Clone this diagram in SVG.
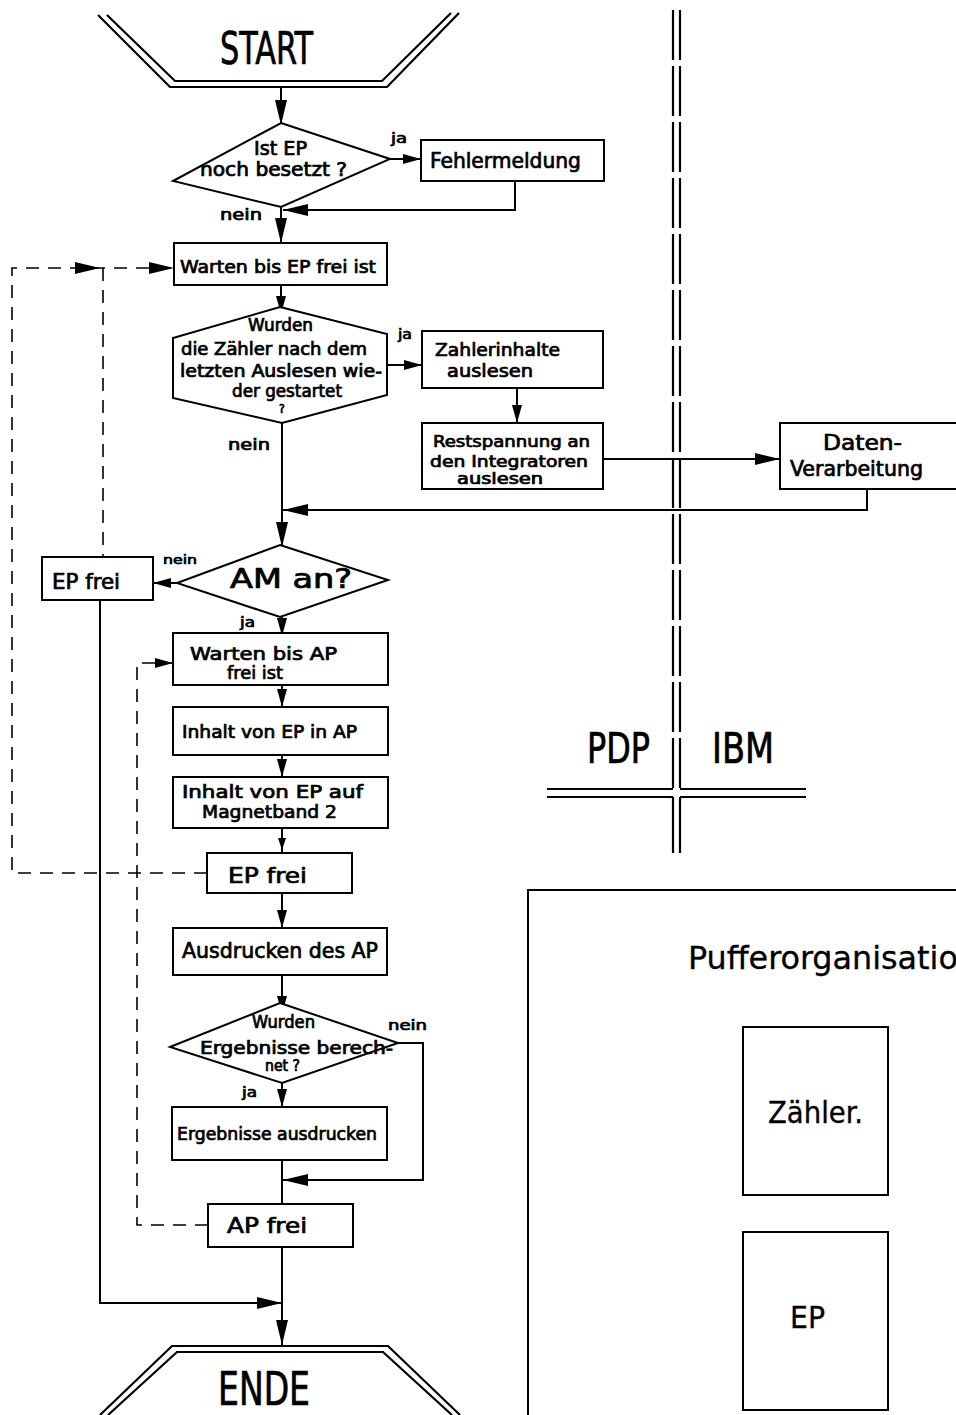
<svg xmlns="http://www.w3.org/2000/svg" xmlns:xlink="http://www.w3.org/1999/xlink" width="956" height="1415" viewBox="0 0 956 1415">
  <style>
    .ln { fill: none; stroke: #000; stroke-width: 2; }
    .bx { fill: #fff; stroke: #000; stroke-width: 2; }
    .dash { fill: none; stroke: #000; stroke-width: 1.6; stroke-dasharray: 13 9; }
    .dbl { fill: none; stroke: #000; stroke-width: 2.2; }
    .t { font-family: "Liberation Sans Narrow", "DejaVu Sans Condensed", "Liberation Sans", sans-serif; font-weight: normal; fill: #000; stroke: #000; stroke-width: 0.7; }
    .tn { font-family: "Liberation Sans Narrow", "DejaVu Sans Condensed", "Liberation Sans", sans-serif; font-weight: normal; fill: #000; stroke: #000; stroke-width: 0.3; }
    .ah { fill: #000; }
  </style>
  <defs>
    <path id="ah" d="M0,0 L-25,-6 L-25,6 Z"/>
    <path id="ahs" d="M0,0 L-18,-5 L-18,5 Z"/>
    <path id="aht" d="M0,0 L-12,-4 L-12,4 Z"/>
  </defs>
  <rect width="956" height="1415" fill="#fff"/>

  <!-- PDP / IBM separation -->
  <g id="trennlinie">
    <path class="dbl" d="M673,10 V789 M680,10 V789" stroke-dasharray="50 6"/>
    <path class="dbl" d="M673,797 V853 M680,797 V853"/>
    <path class="dbl" d="M547,789 H673 M680,789 H806 M547,797 H673 M680,797 H806"/>
    <text class="t" x="587" y="763" font-size="42" textLength="63" lengthAdjust="spacingAndGlyphs">PDP</text>
    <text class="t" x="712" y="763" font-size="42" textLength="62" lengthAdjust="spacingAndGlyphs">IBM</text>
  </g>

  <!-- Connectors -->
  <g id="connectors">
    <path class="ln" d="M281,87 V125"/>
    <use class="ah" href="#ah" transform="translate(281,125) rotate(90)"/>
    <path class="ln" d="M390,159 H421"/>
    <use class="ah" href="#ahs" transform="translate(421,159)"/>
    <path class="ln" d="M515,181 V210 H283"/>
    <use class="ah" href="#ah" transform="translate(283,210) rotate(180)"/>
    <path class="ln" d="M281,207 V243"/>
    <use class="ah" href="#ah" transform="translate(281,243) rotate(90)"/>
    <path class="ln" d="M281,285 V312"/>
    <use class="ah" href="#ahs" transform="translate(281,314) rotate(90)"/>
    <path class="ln" d="M387,365 H422"/>
    <use class="ah" href="#ahs" transform="translate(422,365)"/>
    <path class="ln" d="M517,388 V423"/>
    <use class="ah" href="#ahs" transform="translate(517,423) rotate(90)"/>
    <path class="ln" d="M603,459 H780"/>
    <use class="ah" href="#ah" transform="translate(780,459)"/>
    <path class="ln" d="M867,489 V510 H283"/>
    <use class="ah" href="#ah" transform="translate(283,510) rotate(180)"/>
    <path class="ln" d="M282,423 V547"/>
    <use class="ah" href="#ah" transform="translate(282,547) rotate(90)"/>
    <path class="ln" d="M177,583 H153"/>
    <use class="ah" href="#ahs" transform="translate(153,583) rotate(180)"/>
    <path class="ln" d="M282,617 V634"/>
    <use class="ah" href="#ahs" transform="translate(282,636) rotate(90)"/>
    <path class="ln" d="M282,685 V707"/>
    <use class="ah" href="#ahs" transform="translate(282,707) rotate(90)"/>
    <path class="ln" d="M282,755 V777"/>
    <use class="ah" href="#ahs" transform="translate(282,777) rotate(90)"/>
    <path class="ln" d="M282,828 V853"/>
    <use class="ah" href="#aht" transform="translate(282,850) rotate(90)"/>
    <path class="ln" d="M282,893 V928"/>
    <use class="ah" href="#ahs" transform="translate(282,928) rotate(90)"/>
    <path class="ln" d="M282,975 V1012"/>
    <use class="ah" href="#ahs" transform="translate(282,1014) rotate(90)"/>
    <path class="ln" d="M282,1083 V1107"/>
    <use class="ah" href="#ahs" transform="translate(282,1107) rotate(90)"/>
    <path class="ln" d="M398,1043 H423 V1180 H283"/>
    <use class="ah" href="#ah" transform="translate(283,1180) rotate(180)"/>
    <path class="ln" d="M282,1160 V1204"/>
    <path class="ln" d="M282,1247 V1346"/>
    <use class="ah" href="#ah" transform="translate(282,1345) rotate(90)"/>
    <path class="ln" d="M100,600 V1303 H282"/>
    <use class="ah" href="#ah" transform="translate(282,1303)"/>
    <!-- dashed release paths -->
    <path class="dash" d="M207,873 H12 V268 H174"/>
    <use class="ah" href="#ah" transform="translate(100,268)"/>
    <use class="ah" href="#ah" transform="translate(174,268)"/>
    <path class="dash" d="M103,268 V557"/>
    <path class="dash" d="M208,1225 H137 V663 H173"/>
    <use class="ah" href="#ahs" transform="translate(173,663)"/>
    <!-- buffer organisation -->
    <path class="ln" d="M815,1195 V1232"/>
    <use class="ah" href="#ahs" transform="translate(815,1232) rotate(90)"/>
    <path class="ln" d="M956,1320 H888"/>
    <use class="ah" href="#ah" transform="translate(888,1320) rotate(180)"/>
  </g>

  <g id="start">
    <polyline class="dbl" points="98,15 170,87 387,87 459,13"/>
    <polyline class="dbl" points="107,15 175,81 382,81 451,13"/>
    <text class="t" x="220" y="64" font-size="44" textLength="93" lengthAdjust="spacingAndGlyphs">START</text>
  </g>

  <g id="frage-ep-besetzt">
    <polygon class="bx" points="281,123 390,159 281,207 173,181"/>
    <text class="t" x="254" y="155" font-size="19" textLength="53" lengthAdjust="spacingAndGlyphs">Ist EP</text>
    <text class="t" x="200" y="176" font-size="19" textLength="147" lengthAdjust="spacingAndGlyphs">noch besetzt ?</text>
    <text class="t" x="391" y="143" font-size="14" textLength="16" lengthAdjust="spacingAndGlyphs">ja</text>
    <text class="t" x="220" y="220" font-size="15" textLength="42" lengthAdjust="spacingAndGlyphs">nein</text>
  </g>

  <g id="fehlermeldung">
    <rect class="bx" x="421" y="140" width="183" height="41"/>
    <text class="t" x="430" y="168" font-size="22" textLength="151" lengthAdjust="spacingAndGlyphs">Fehlermeldung</text>
  </g>

  <g id="warten-ep">
    <rect class="bx" x="174" y="243" width="213" height="42"/>
    <text class="t" x="180" y="273" font-size="18" textLength="196" lengthAdjust="spacingAndGlyphs">Warten bis EP frei ist</text>
  </g>

  <g id="frage-zaehler">
    <polygon class="bx" points="280,307 387,334 387,395 282,423 173,398 173,338"/>
    <text class="t" x="248" y="331" font-size="17" textLength="65" lengthAdjust="spacingAndGlyphs">Wurden</text>
    <text class="t" x="181" y="355" font-size="17" textLength="186" lengthAdjust="spacingAndGlyphs">die Zähler nach dem</text>
    <text class="t" x="180" y="377" font-size="17" textLength="202" lengthAdjust="spacingAndGlyphs">letzten Auslesen wie-</text>
    <text class="t" x="232" y="397" font-size="17" textLength="110" lengthAdjust="spacingAndGlyphs">der gestartet</text>
    <text class="t" x="279" y="413" font-size="12">?</text>
    <text class="t" x="398" y="339" font-size="14" textLength="14" lengthAdjust="spacingAndGlyphs">ja</text>
    <text class="t" x="228" y="450" font-size="15" textLength="42" lengthAdjust="spacingAndGlyphs">nein</text>
  </g>

  <g id="zaehlerinhalte">
    <rect class="bx" x="422" y="331" width="181" height="57"/>
    <text class="t" x="435" y="356" font-size="18" textLength="125" lengthAdjust="spacingAndGlyphs">Zahlerinhalte</text>
    <text class="t" x="447" y="377" font-size="18" textLength="86" lengthAdjust="spacingAndGlyphs">auslesen</text>
  </g>

  <g id="restspannung">
    <rect class="bx" x="422" y="423" width="181" height="66"/>
    <text class="t" x="433" y="447" font-size="16" textLength="157" lengthAdjust="spacingAndGlyphs">Restspannung an</text>
    <text class="t" x="430" y="467" font-size="16" textLength="158" lengthAdjust="spacingAndGlyphs">den Integratoren</text>
    <text class="t" x="457" y="484" font-size="15" textLength="86" lengthAdjust="spacingAndGlyphs">auslesen</text>
  </g>

  <g id="datenverarbeitung">
    <rect class="bx" x="780" y="423" width="200" height="66"/>
    <text class="t" x="823" y="450" font-size="22" textLength="79" lengthAdjust="spacingAndGlyphs">Daten-</text>
    <text class="t" x="790" y="476" font-size="22" textLength="133" lengthAdjust="spacingAndGlyphs">Verarbeitung</text>
  </g>

  <g id="frage-am">
    <polygon class="bx" points="280,545 388,580 280,617 177,583"/>
    <text class="t" x="230" y="588" font-size="26" textLength="122" lengthAdjust="spacingAndGlyphs">AM  an?</text>
    <text class="t" x="163" y="564" font-size="13" textLength="34" lengthAdjust="spacingAndGlyphs">nein</text>
    <text class="t" x="240" y="627" font-size="14" textLength="15" lengthAdjust="spacingAndGlyphs">ja</text>
  </g>

  <g id="ep-frei-links">
    <rect class="bx" x="42" y="557" width="111" height="43"/>
    <text class="t" x="52" y="589" font-size="22" textLength="68" lengthAdjust="spacingAndGlyphs">EP frei</text>
  </g>

  <g id="warten-ap">
    <rect class="bx" x="173" y="633" width="215" height="52"/>
    <text class="t" x="190" y="660" font-size="18" textLength="147" lengthAdjust="spacingAndGlyphs">Warten bis  AP</text>
    <text class="t" x="227" y="679" font-size="18" textLength="56" lengthAdjust="spacingAndGlyphs">frei ist</text>
  </g>

  <g id="inhalt-ep-ap">
    <rect class="bx" x="173" y="707" width="215" height="48"/>
    <text class="t" x="182" y="738" font-size="18" textLength="175" lengthAdjust="spacingAndGlyphs">Inhalt von EP in AP</text>
  </g>

  <g id="inhalt-ep-band">
    <rect class="bx" x="173" y="777" width="215" height="51"/>
    <text class="t" x="182" y="798" font-size="18" textLength="181" lengthAdjust="spacingAndGlyphs">Inhalt von EP auf</text>
    <text class="t" x="202" y="818" font-size="18" textLength="135" lengthAdjust="spacingAndGlyphs">Magnetband 2</text>
  </g>

  <g id="ep-frei-mitte">
    <rect class="bx" x="207" y="853" width="145" height="40"/>
    <text class="t" x="228" y="883" font-size="22" textLength="79" lengthAdjust="spacingAndGlyphs">EP  frei</text>
  </g>

  <g id="ausdrucken-ap">
    <rect class="bx" x="173" y="928" width="214" height="47"/>
    <text class="t" x="182" y="958" font-size="22" textLength="196" lengthAdjust="spacingAndGlyphs">Ausdrucken des AP</text>
  </g>

  <g id="frage-ergebnisse">
    <polygon class="bx" points="280,1003 398,1043 282,1083 170,1047"/>
    <text class="t" x="252" y="1028" font-size="17" textLength="63" lengthAdjust="spacingAndGlyphs">Wurden</text>
    <text class="t" x="200" y="1054" font-size="17" textLength="193" lengthAdjust="spacingAndGlyphs">Ergebnisse berech-</text>
    <text class="t" x="265" y="1071" font-size="15" textLength="35" lengthAdjust="spacingAndGlyphs">net ?</text>
    <text class="t" x="388" y="1030" font-size="14" textLength="39" lengthAdjust="spacingAndGlyphs">nein</text>
    <text class="t" x="242" y="1097" font-size="14" textLength="15" lengthAdjust="spacingAndGlyphs">ja</text>
  </g>

  <g id="ergebnisse-ausdrucken">
    <rect class="bx" x="172" y="1107" width="215" height="53"/>
    <text class="t" x="177" y="1140" font-size="18" textLength="200" lengthAdjust="spacingAndGlyphs">Ergebnisse ausdrucken</text>
  </g>

  <g id="ap-frei">
    <rect class="bx" x="208" y="1204" width="145" height="43"/>
    <text class="t" x="227" y="1233" font-size="22" textLength="80" lengthAdjust="spacingAndGlyphs">AP  frei</text>
  </g>

  <g id="ende">
    <polyline class="dbl" points="100,1415 172,1346 388,1346 460,1415"/>
    <polyline class="dbl" points="108,1415 177,1352 383,1352 452,1415"/>
    <text class="t" x="218" y="1405" font-size="46" textLength="92" lengthAdjust="spacingAndGlyphs">ENDE</text>
  </g>

  <g id="pufferorganisation">
    <rect class="bx" x="528" y="890" width="440" height="540"/>
    <text class="tn" x="688" y="969" font-size="32" textLength="290" lengthAdjust="spacingAndGlyphs">Pufferorganisation</text>
  </g>

  <g id="zaehler">
    <rect class="bx" x="743" y="1027" width="145" height="168"/>
    <text class="tn" x="768" y="1123" font-size="30" textLength="95" lengthAdjust="spacingAndGlyphs">Zähler.</text>
  </g>

  <g id="ep-puffer">
    <rect class="bx" x="743" y="1232" width="145" height="178"/>
    <text class="tn" x="790" y="1328" font-size="30" textLength="35" lengthAdjust="spacingAndGlyphs">EP</text>
  </g>
</svg>
